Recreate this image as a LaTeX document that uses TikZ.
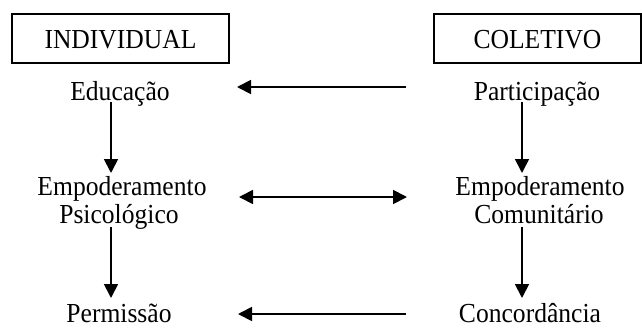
\documentclass[tikz,border=0pt]{standalone}
\usepackage{fontspec}
\setmainfont{Liberation Serif}[FakeStretch=0.93]
\usetikzlibrary{arrows.meta}
\begin{document}
\begin{tikzpicture}[x=1pt,y=-1pt,
  lbl/.style={font=\fontsize{27.5pt}{32pt}\selectfont, inner sep=0pt, anchor=base},
  headbox/.style={draw, line width=1.3pt, font=\fontsize{27.5pt}{32pt}\selectfont,
    text height=20pt, text depth=0pt, inner sep=0pt, minimum height=49pt},
  arr/.style={line width=1.8pt, -{Triangle[length=14pt,width=14pt]}},
  biarr/.style={line width=1.8pt, {Triangle[length=14pt,width=14pt]}-{Triangle[length=14pt,width=14pt]}}]
\useasboundingbox (0,0) rectangle (642,327);

% column headings
\node[headbox, minimum width=217pt] (ind) at (120.5,38.5) {INDIVIDUAL};
\node[headbox, minimum width=207pt] (col) at (537.5,38.5) {COLETIVO};

% individual column
\node[lbl] (edu)  at (120,100)   {Educação};
\node[lbl] (emp1) at (122,195)   {Empoderamento};
\node[lbl] (psi)  at (119,223.5) {Psicológico};
\node[lbl] (per)  at (119,322)   {Permissão};

% collective column
\node[lbl] (par)  at (537,100)   {Participação};
\node[lbl] (emp2) at (540,195)   {Empoderamento};
\node[lbl] (com)  at (539,223.5) {Comunitário};
\node[lbl] (con)  at (530,322)   {Concordância};

% vertical flows
\draw[arr] ([shift={(-9,2)}]edu.base) -- ([shift={(-11,-22)}]emp1.base);
\draw[arr] ([shift={(-8,3.5)}]psi.base) -- ([shift={(-8,-24)}]per.base);
\draw[arr] ([shift={(-15,2)}]par.base) -- ([shift={(-18,-22)}]emp2.base);
\draw[arr] ([shift={(-17,3.5)}]com.base) -- ([shift={(-8,-24)}]con.base);

% horizontal links
\draw[arr] ([shift={(-131,-13)}]par.base) -- ([shift={(117,-13)}]edu.base);
\draw[biarr] ([shift={(117,2)}]emp1.base) -- ([shift={(-133,2)}]emp2.base);
\draw[arr] ([shift={(-124,-8)}]con.base) -- ([shift={(119,-8)}]per.base);
\end{tikzpicture}
\end{document}
